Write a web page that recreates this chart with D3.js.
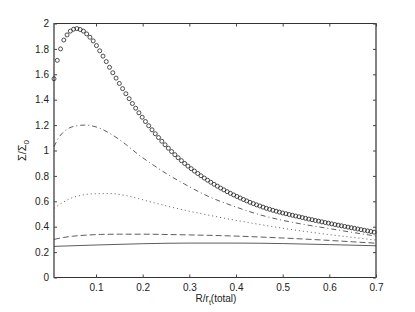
<!DOCTYPE html>
<html>
<head>
<meta charset="utf-8">
<script src="https://cdn.jsdelivr.net/npm/d3@7"></script>
<style>
  body { margin: 0; background: #fff; }
  svg { display: block; }
  text { font-family: 'Liberation Sans', Arial, sans-serif; }
</style>
</head>
<body>
<svg id="chart" width="415" height="312"></svg>
<script>
// DATA
const xTicks = [0.1, 0.2, 0.3, 0.4, 0.5, 0.6, 0.7];
const yTicks = [0, 0.2, 0.4, 0.6, 0.8, 1, 1.2, 1.4, 1.6, 1.8, 2];

// circle markers (sampled grid)
const circleX = [
  0.010, 0.017, 0.024, 0.031, 0.038, 0.045, 0.052, 0.059, 0.066, 0.073,
  0.080, 0.087, 0.094, 0.101, 0.108, 0.115, 0.122, 0.129, 0.136, 0.143,
  0.150, 0.157, 0.164, 0.171, 0.178, 0.185, 0.192, 0.199, 0.206, 0.213,
  0.220, 0.227, 0.234, 0.241, 0.248, 0.255, 0.262, 0.269, 0.276, 0.283,
  0.290, 0.297, 0.304, 0.311, 0.318, 0.325, 0.332, 0.339, 0.346, 0.353,
  0.360, 0.367, 0.374, 0.381, 0.388, 0.395, 0.402, 0.409, 0.416, 0.423,
  0.430, 0.437, 0.444, 0.451, 0.458, 0.465, 0.472, 0.479, 0.486, 0.493,
  0.500, 0.507, 0.514, 0.521, 0.528, 0.535, 0.542, 0.549, 0.556, 0.563,
  0.570, 0.577, 0.584, 0.591, 0.598, 0.605, 0.612, 0.619, 0.626, 0.633,
  0.640, 0.647, 0.654, 0.661, 0.668, 0.675, 0.682, 0.689, 0.696
];
const circleY = [
  1.565, 1.710, 1.800, 1.870, 1.910, 1.940, 1.955, 1.960, 1.953, 1.940,
  1.918, 1.892, 1.863, 1.826, 1.785, 1.743, 1.700, 1.655, 1.612, 1.570,
  1.528, 1.487, 1.447, 1.408, 1.370, 1.333, 1.297, 1.262, 1.228, 1.195,
  1.163, 1.132, 1.102, 1.073, 1.045, 1.018, 0.992, 0.967, 0.943, 0.920,
  0.898, 0.877, 0.857, 0.838, 0.819, 0.801, 0.783, 0.766, 0.750, 0.734,
  0.719, 0.704, 0.690, 0.676, 0.663, 0.650, 0.638, 0.626, 0.614, 0.603,
  0.592, 0.582, 0.572, 0.563, 0.554, 0.545, 0.537, 0.529, 0.522, 0.515,
  0.508, 0.502, 0.496, 0.490, 0.484, 0.478, 0.472, 0.466, 0.460, 0.455,
  0.449, 0.444, 0.438, 0.433, 0.428, 0.422, 0.417, 0.412, 0.407, 0.402,
  0.397, 0.392, 0.387, 0.382, 0.377, 0.372, 0.367, 0.362, 0.357
];

// dash-dot curve
const dashDotX = [0.010, 0.020, 0.035, 0.055, 0.075, 0.100, 0.130, 0.165, 0.190, 0.215,
  0.250, 0.290, 0.340, 0.400, 0.450, 0.500, 0.550, 0.600, 0.650, 0.700];
const dashDotY = [1.030, 1.100, 1.160, 1.192, 1.200, 1.186, 1.134, 1.045, 0.970, 0.905,
  0.820, 0.735, 0.640, 0.555, 0.495, 0.450, 0.415, 0.385, 0.355, 0.326];

// dotted curve
const dottedX = [0.010, 0.020, 0.045, 0.075, 0.100, 0.130, 0.160, 0.190, 0.215, 0.245,
  0.290, 0.340, 0.400, 0.460, 0.520, 0.580, 0.640, 0.700];
const dottedY = [0.545, 0.570, 0.622, 0.652, 0.660, 0.661, 0.648, 0.622, 0.597, 0.569,
  0.530, 0.492, 0.450, 0.412, 0.377, 0.347, 0.320, 0.295];

// dashed curve
const dashedX = [0.010, 0.030, 0.050, 0.080, 0.110, 0.150, 0.200, 0.260, 0.330, 0.400,
  0.450, 0.500, 0.550, 0.600, 0.650, 0.700];
const dashedY = [0.300, 0.315, 0.325, 0.334, 0.339, 0.341, 0.341, 0.338, 0.333, 0.326,
  0.319, 0.311, 0.302, 0.292, 0.281, 0.270];

// solid curve
const solidX = [0.010, 0.100, 0.200, 0.300, 0.400, 0.500, 0.600, 0.700];
const solidY = [0.245, 0.256, 0.266, 0.271, 0.271, 0.267, 0.259, 0.250];

// LAYOUT
const mLeft = 54, mRight = 376, mTop = 23.5, mBottom = 277.5;
const svg = d3.select('#chart');

const x = d3.scaleLinear().domain([0.01, 0.7]).range([mLeft, mRight]);
const y = d3.scaleLinear().domain([0, 2]).range([mBottom, mTop]);

// BOX
svg.append('rect')
  .attr('x', mLeft)
  .attr('y', mTop)
  .attr('width', mRight - mLeft)
  .attr('height', mBottom - mTop)
  .attr('fill', 'none')
  .attr('stroke', '#333')
  .attr('stroke-width', 1);

// thicker grey sides, like the picture
svg.append('g')
  .selectAll('line')
  .data([mLeft, mRight])
  .enter()
  .append('line')
  .attr('x1', d => d)
  .attr('x2', d => d)
  .attr('y1', mTop)
  .attr('y2', mBottom)
  .attr('stroke', '#808080')
  .attr('stroke-width', 1.8);

// AXES (matlab style, ticks inside)
const tickLen = 3;
svg.append('g')
  .attr('transform', `translate(0,${mBottom})`)
  .call(d3.axisBottom(x).tickValues(xTicks).tickSize(-tickLen).tickPadding(6)
    .tickFormat(d3.format('')))
  .call(g => g.select('.domain').remove())
  .call(g => g.selectAll('text').attr('font-size', 10).attr('fill', '#222'))
  .call(g => g.selectAll('line').attr('stroke', '#444'));

svg.append('g')
  .attr('transform', `translate(${mLeft},0)`)
  .call(d3.axisLeft(y).tickValues(yTicks).tickSize(-tickLen).tickPadding(5)
    .tickFormat(d3.format('')))
  .call(g => g.select('.domain').remove())
  .call(g => g.selectAll('text').attr('font-size', 10).attr('fill', '#222'))
  .call(g => g.selectAll('line').attr('stroke', '#444'));

// mirrored ticks top / right
svg.append('g')
  .attr('transform', `translate(0,${mTop})`)
  .call(d3.axisTop(x).tickValues(xTicks).tickSize(-tickLen).tickFormat(() => ''))
  .call(g => g.select('.domain').remove())
  .call(g => g.selectAll('line').attr('stroke', '#444'));

svg.append('g')
  .attr('transform', `translate(${mRight},0)`)
  .call(d3.axisRight(y).tickValues(yTicks).tickSize(-tickLen).tickFormat(() => ''))
  .call(g => g.select('.domain').remove())
  .call(g => g.selectAll('line').attr('stroke', '#444'));

// LINES
const lineGen = d3.line()
  .x(d => x(d[0]))
  .y(d => y(d[1]))
  .curve(d3.curveMonotoneX);

const series = [
  { xs: solidX, ys: solidY, dash: null },
  { xs: dashedX, ys: dashedY, dash: '6,3' },
  { xs: dottedX, ys: dottedY, dash: '1,3' },
  { xs: dashDotX, ys: dashDotY, dash: '5,3,1,3' }
];

svg.append('g')
  .selectAll('path')
  .data(series)
  .enter()
  .append('path')
  .attr('d', d => lineGen(d3.zip(d.xs, d.ys)))
  .attr('fill', 'none')
  .attr('stroke', '#333')
  .attr('stroke-width', 0.8)
  .attr('stroke-dasharray', d => d.dash);

// CIRCLES
svg.append('g')
  .selectAll('circle')
  .data(d3.zip(circleX, circleY))
  .enter()
  .append('circle')
  .attr('cx', d => x(d[0]))
  .attr('cy', d => y(d[1]))
  .attr('r', 2)
  .attr('fill', 'none')
  .attr('stroke', '#222')
  .attr('stroke-width', 0.8);

// LABELS
svg.append('text')
  .attr('x', 216)
  .attr('y', 302)
  .attr('text-anchor', 'middle')
  .attr('font-size', 10)
  .attr('fill', '#222')
  .call(t => {
    t.append('tspan').text('R/r');
    t.append('tspan').attr('font-size', 7).attr('dy', 3).text('t');
    t.append('tspan').attr('dy', -3).text('(total)');
  });

svg.append('text')
  .attr('transform', `translate(26,${(mTop + mBottom) / 2}) rotate(-90)`)
  .attr('text-anchor', 'middle')
  .attr('font-size', 11)
  .attr('font-family', "'Liberation Serif', 'DejaVu Serif', serif")
  .attr('fill', '#222')
  .call(t => {
    t.append('tspan').text('Σ/Σ');
    t.append('tspan').attr('font-size', 8).attr('dy', 3).text('0');
  });
</script>
</body>
</html>
